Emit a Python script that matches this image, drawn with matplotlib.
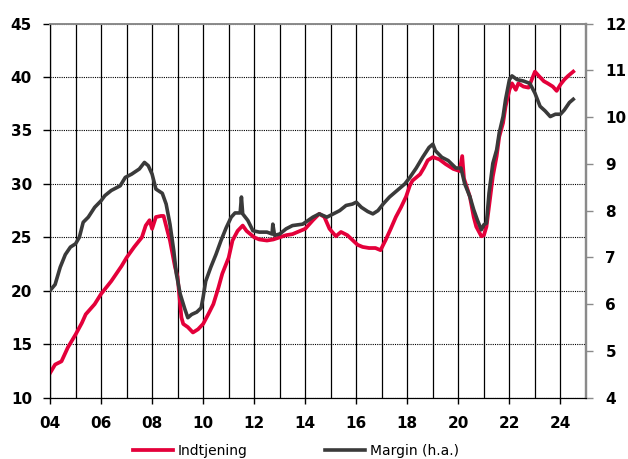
import matplotlib
matplotlib.use("Agg")
import matplotlib.pyplot as plt
from matplotlib.ticker import MultipleLocator, FixedLocator

# Indtjening (left axis)
ind_year = [2004.0, 2004.2, 2004.45, 2004.7, 2005.0, 2005.25, 2005.4, 2005.75, 2006.0, 2006.2,
            2006.4, 2006.5, 2006.8, 2007.0, 2007.3, 2007.6, 2007.75, 2007.9, 2008.0, 2008.15,
            2008.35, 2008.45, 2008.6, 2008.7, 2008.9, 2009.0, 2009.05, 2009.15, 2009.22, 2009.4,
            2009.6, 2009.8, 2010.0, 2010.2, 2010.4, 2010.6, 2010.75, 2011.0, 2011.15, 2011.35,
            2011.55, 2011.7, 2011.9, 2012.0, 2012.2, 2012.5, 2012.75, 2013.0, 2013.25, 2013.5,
            2013.8, 2014.0, 2014.3, 2014.55, 2014.75, 2014.95, 2015.2, 2015.4, 2015.65, 2015.85,
            2016.05, 2016.25, 2016.5, 2016.75, 2016.95, 2017.15, 2017.35, 2017.55, 2017.75, 2017.95,
            2018.1, 2018.2, 2018.5, 2018.65, 2018.8, 2019.0, 2019.25, 2019.5, 2019.8, 2020.05,
            2020.15, 2020.22, 2020.45, 2020.6, 2020.7, 2020.9, 2021.0, 2021.1, 2021.25, 2021.35,
            2021.5, 2021.6, 2021.75, 2021.85, 2022.0, 2022.1, 2022.25, 2022.35, 2022.55, 2022.75,
            2022.85, 2023.0, 2023.15, 2023.35, 2023.5, 2023.7, 2023.85, 2024.0, 2024.15, 2024.3,
            2024.5]
ind_val = [12.3, 13.1, 13.4, 14.7, 15.9, 17.0, 17.8, 18.75, 19.7, 20.3,
           20.9, 21.25, 22.3, 23.1, 24.1, 25.0, 26.1, 26.6, 25.8, 26.9,
           27.0, 27.0, 25.6, 24.7, 22.2, 21.3, 20.0, 17.5, 16.9, 16.6,
           16.1, 16.4, 16.9, 17.8, 18.75, 20.3, 21.6, 23.1, 24.7, 25.6,
           26.1, 25.6, 25.2, 25.0, 24.8, 24.7, 24.8, 25.0, 25.2, 25.3,
           25.6, 25.8, 26.6, 27.2, 26.9, 25.8, 25.1, 25.5, 25.2, 24.75,
           24.3, 24.1, 24.0, 24.0, 23.8, 24.75, 25.8, 26.9, 27.8, 28.8,
           29.85, 30.3, 30.9, 31.5, 32.2, 32.5, 32.3, 31.85, 31.4, 31.2,
           32.6, 30.5, 28.8, 26.9, 26.0, 25.1, 25.2, 26.0, 28.8, 30.7,
           32.6, 34.4, 35.7, 37.25, 38.8, 39.4, 38.8, 39.4, 39.1, 39.0,
           39.6, 40.5, 40.1, 39.6, 39.4, 39.1, 38.7, 39.3, 39.75, 40.1,
           40.5]

# Margin (h.a.) (right axis)
mar_year = [2004.0, 2004.2, 2004.4, 2004.6, 2004.8, 2005.0, 2005.15, 2005.3, 2005.5, 2005.75,
            2006.0, 2006.15, 2006.4, 2006.75, 2006.95, 2007.2, 2007.5, 2007.7, 2007.85, 2008.0,
            2008.15, 2008.4, 2008.55, 2008.7, 2008.85, 2008.95, 2009.1, 2009.28, 2009.4, 2009.55,
            2009.75, 2009.92, 2010.0, 2010.1, 2010.3, 2010.5, 2010.7, 2010.9, 2011.1, 2011.25,
            2011.45, 2011.5, 2011.55, 2011.75, 2011.95, 2012.2, 2012.5, 2012.7, 2012.73, 2012.8,
            2013.0, 2013.25, 2013.5, 2013.9, 2014.3, 2014.55, 2014.85, 2015.1, 2015.35, 2015.6,
            2015.85, 2016.0, 2016.2, 2016.45, 2016.65, 2016.85, 2017.05, 2017.3, 2017.6, 2017.9,
            2018.1, 2018.35, 2018.6, 2018.85, 2019.0, 2019.1, 2019.35, 2019.6, 2019.9, 2020.1,
            2020.25, 2020.45, 2020.6, 2020.75, 2020.9, 2021.0, 2021.1, 2021.2, 2021.35, 2021.5,
            2021.6, 2021.75, 2021.85, 2022.0, 2022.1, 2022.3, 2022.55, 2022.8, 2023.0, 2023.2,
            2023.4, 2023.6, 2023.8, 2024.0, 2024.15, 2024.35, 2024.5]
mar_val = [6.29, 6.42, 6.79, 7.06, 7.22, 7.29, 7.43, 7.75, 7.86, 8.07,
           8.21, 8.32, 8.43, 8.53, 8.71, 8.78, 8.89, 9.03, 8.96, 8.78,
           8.46, 8.37, 8.14, 7.71, 7.14, 6.65, 6.22, 5.90, 5.71, 5.78,
           5.83, 5.92, 6.15, 6.49, 6.79, 7.06, 7.36, 7.63, 7.86, 7.95,
           7.95, 8.29, 7.93, 7.79, 7.57, 7.54, 7.54, 7.50, 7.71, 7.47,
           7.50, 7.61, 7.68, 7.71, 7.86, 7.93, 7.86, 7.93, 8.00, 8.11,
           8.14, 8.18, 8.07, 7.98, 7.93, 8.00, 8.14, 8.29, 8.43, 8.57,
           8.71, 8.91, 9.14, 9.35, 9.42, 9.28, 9.14, 9.07, 8.91, 8.91,
           8.57, 8.30, 8.02, 7.79, 7.59, 7.70, 7.73, 8.37, 9.01, 9.30,
           9.66, 10.01, 10.38, 10.80, 10.88, 10.80, 10.77, 10.72, 10.51, 10.23,
           10.13, 10.01, 10.06, 10.06, 10.15, 10.31, 10.38]

x_ticks = [2004, 2006, 2008, 2010, 2012, 2014, 2016, 2018, 2020, 2022, 2024]
x_labels = ["04", "06", "08", "10", "12", "14", "16", "18", "20", "22", "24"]
left_ticks = [10, 15, 20, 25, 30, 35, 40, 45]
right_ticks = [4, 5, 6, 7, 8, 9, 10, 11, 12]

RED = "#E4003A"
DARK = "#3A3A3A"

fig = plt.figure(figsize=(6.28, 4.59), dpi=100)
ax = fig.add_axes([50/628, 1 - 397.7/459, (586-50)/628, (397.7-23.5)/459])
ax2 = ax.twinx()

ax.set_xlim(2004, 2025)
ax.set_ylim(10, 45)
ax2.set_ylim(4, 12)

ax.xaxis.set_major_locator(FixedLocator(x_ticks))
ax.set_xticklabels(x_labels)
ax.xaxis.set_minor_locator(MultipleLocator(1))
ax.set_yticks(left_ticks)
ax2.set_yticks(right_ticks)

ax.grid(axis="x", which="both", color="black", linewidth=0.9, linestyle="-")
ax.grid(axis="y", which="major", color="black", linewidth=0.8, linestyle=(0, (1, 1)))
ax.set_axisbelow(True)

ax.plot(ind_year, ind_val, color=RED, linewidth=2.7, label="Indtjening", zorder=3)
ax2.plot(mar_year, mar_val, color=DARK, linewidth=2.6, label="Margin (h.a.)", zorder=3)

for a in (ax, ax2):
    a.spines["left"].set_color("black")
    a.spines["bottom"].set_color("black")
    a.spines["top"].set_color("#8a8a8a")
    a.spines["right"].set_color("#8a8a8a")
    a.spines["right"].set_linewidth(1.6)
    a.spines["top"].set_linewidth(1.2)

ax.tick_params(axis="y", which="major", length=5, width=1, color="black", pad=8,
               labelsize=11, direction="out")
ax.tick_params(axis="x", which="major", length=4, width=1, color="black", pad=9,
               labelsize=11)
ax.tick_params(axis="x", which="minor", length=0)
ax2.tick_params(axis="y", which="major", length=5, width=1, color="#8a8a8a", pad=9,
                labelsize=11, direction="out")
for lab in ax.get_xticklabels() + ax.get_yticklabels() + ax2.get_yticklabels():
    lab.set_fontweight("bold")

h1, l1 = ax.get_legend_handles_labels()
h2, l2 = ax2.get_legend_handles_labels()
fig.legend(h1 + h2, l1 + l2, loc="center left", bbox_to_anchor=(133/628, 1 - 451/459),
           ncol=2, frameon=False, fontsize=10, handlelength=2.9, handletextpad=0.3,
           columnspacing=5.6, borderpad=0, borderaxespad=0)

fig.savefig("out.png", dpi=100)
